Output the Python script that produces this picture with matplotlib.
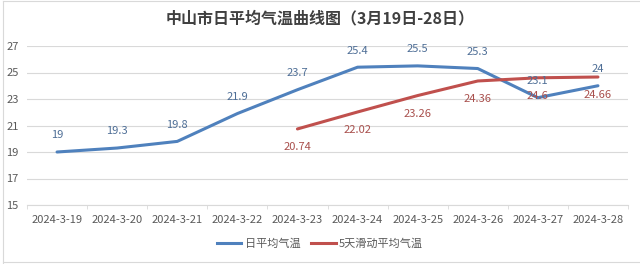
import numpy as np
import matplotlib
matplotlib.use("Agg")
import matplotlib.pyplot as plt
from matplotlib.lines import Line2D

plt.rcParams['font.family'] = ['Noto Sans CJK SC', 'DejaVu Sans']

# --- 数据 ---
dates = ["2024-3-19", "2024-3-20", "2024-3-21", "2024-3-22", "2024-3-23",
         "2024-3-24", "2024-3-25", "2024-3-26", "2024-3-27", "2024-3-28"]
daily_temp = [19, 19.3, 19.8, 21.9, 23.7, 25.4, 25.5, 25.3, 23.1, 24]
ma5_dates = dates[4:]
ma5_temp = [20.74, 22.02, 23.26, 24.36, 24.6, 24.66]
y_ticks = [15, 17, 19, 21, 23, 25, 27]

BLUE = "#4F81BD"
RED = "#C0504D"

fig = plt.figure(figsize=(6.4, 2.64), dpi=100)
ax = fig.add_axes([27 / 640, 1 - 205 / 264, 601 / 640, 159 / 264])

x = np.arange(len(dates))
x_ma = np.arange(4, len(dates))

ax.plot(x, daily_temp, color=BLUE, lw=2.2, solid_capstyle='round', zorder=3)
ax.plot(x_ma, ma5_temp, color=RED, lw=2.2, solid_capstyle='round', zorder=3)

for xi, v in zip(x, daily_temp):
    ax.annotate(f"{v:g}", (xi, v), xytext=(0, 12), textcoords='offset points',
                ha='center', va='center', fontsize=8, color="#4E6E96", zorder=4)
for xi, v in zip(x_ma, ma5_temp):
    ax.annotate(f"{v:g}", (xi, v), xytext=(0, -13), textcoords='offset points',
                ha='center', va='center', fontsize=8, color="#A9504D", zorder=4)

ax.set_xlim(-0.5, len(dates) - 0.5)
ax.set_ylim(15, 27)
ax.set_yticks(y_ticks)
ax.set_xticks(x)
ax.set_xticklabels(dates)
ax.set_xticks(np.arange(-0.5, len(dates)), minor=True)

ax.grid(axis='y', color='#D9D9D9', lw=0.8)
ax.set_axisbelow(True)
for s in ['top', 'right', 'left']:
    ax.spines[s].set_visible(False)
ax.spines['bottom'].set_color('#D9D9D9')
ax.tick_params(axis='y', length=0, labelsize=8, labelcolor='#595959', pad=6)
ax.tick_params(axis='x', which='major', length=0, labelsize=8, labelcolor='#595959', pad=7)
ax.tick_params(axis='x', which='minor', length=3, color='#D9D9D9')

fig.text(0.5, 1 - 18 / 264, "中山市日平均气温曲线图（3月19日-28日）", ha='center', va='center',
         fontsize=11.5, fontweight='bold', color='#404040')

handles = [Line2D([], [], color=BLUE, lw=2.2), Line2D([], [], color=RED, lw=2.2)]
fig.legend(handles, ["日平均气温", "5天滑动平均气温"], loc='center',
           bbox_to_anchor=(0.5, 1 - 244 / 264), ncol=2, frameon=False, fontsize=8,
           labelcolor='#595959', handlelength=2.2, handletextpad=0.3, columnspacing=1.0)

# 外框
for xs, ys in [([0.004, 0.004], [0.005, 0.995]), ([0.004, 1], [0.995, 0.995]), ([0.004, 1], [0.008, 0.008])]:
    fig.add_artist(Line2D(xs, ys, color='#D9D9D9', lw=0.8, transform=fig.transFigure))

fig.savefig("out.png", dpi=100)
